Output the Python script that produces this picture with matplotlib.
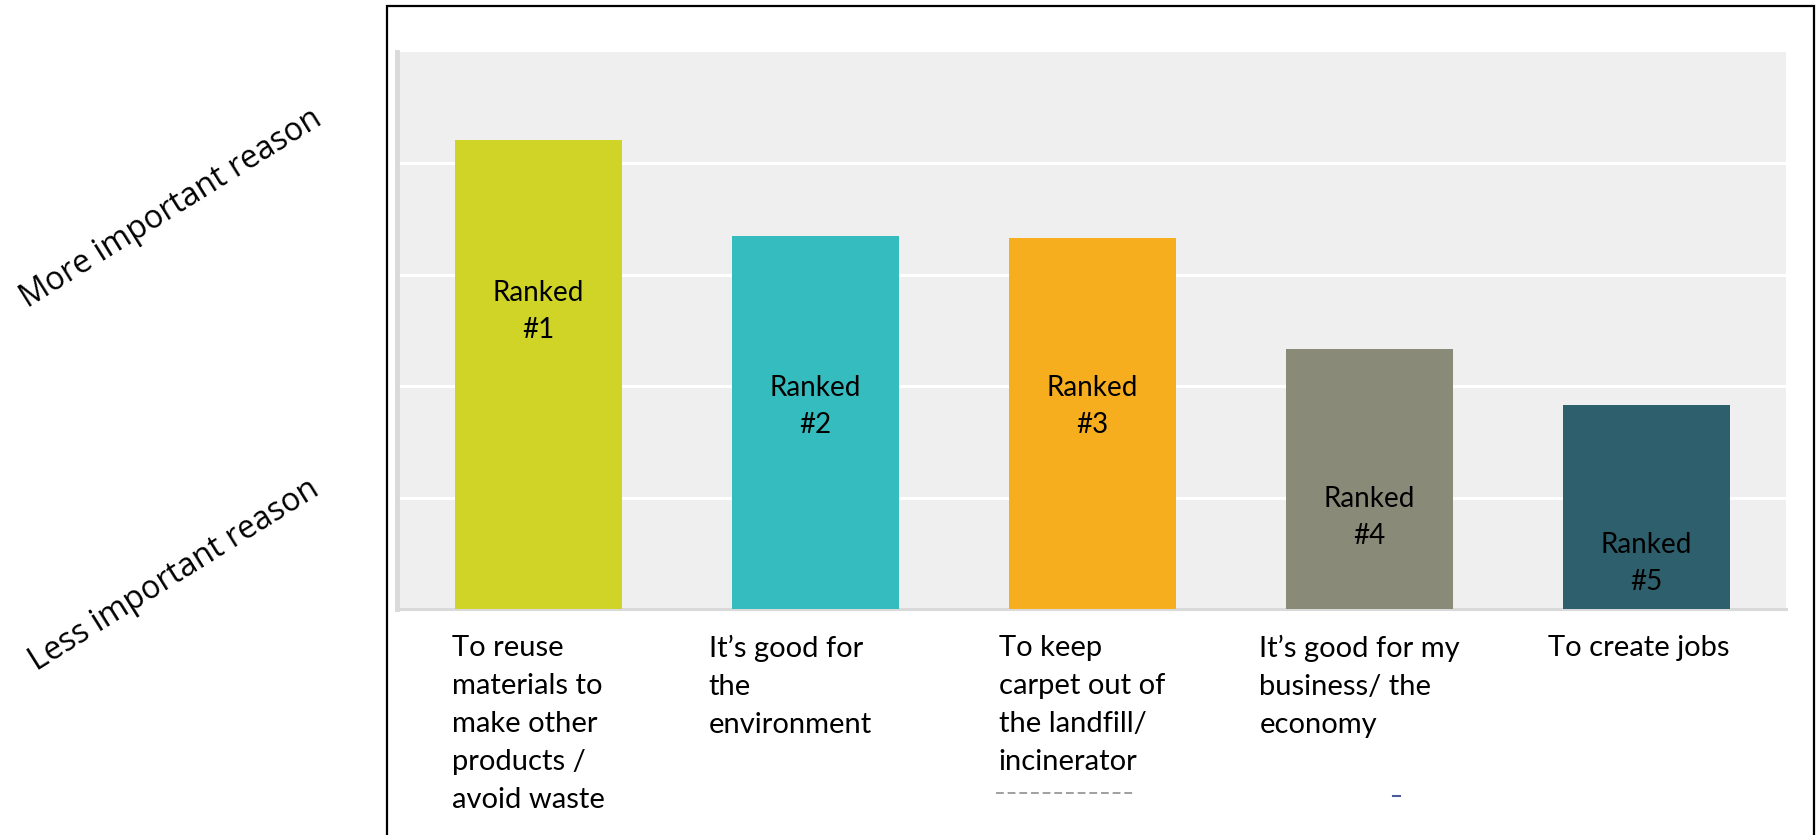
import numpy as np
import matplotlib.pyplot as plt
from matplotlib.patches import Rectangle
from matplotlib.lines import Line2D

# Data (y scale: 0..5, gridlines every 1)
categories = ['To reuse\nmaterials to\nmake other\nproducts /\navoid waste',
              'It\u2019s good for\nthe\nenvironment',
              'To keep\ncarpet out of\nthe landfill/\nincinerator',
              'It\u2019s good for my\nbusiness/ the\neconomy',
              'To create jobs']
ranks = ['#1', '#2', '#3', '#4', '#5']
scores = [4.21, 3.35, 3.33, 2.33, 1.83]

colors = ['#CFD427', '#34BCBF', '#F6AE1F', '#8A8A79', '#2E5F6C']

# where the "Ranked" text sits inside each bar (data units)
rank_label_y = [2.67, 1.82, 1.82, 0.82, 0.41]
# category label offset from bar centre (data units)
cat_label_dx = [-0.314, -0.385, -0.338, -0.397, -0.356]

text_font = ['Lato', 'DejaVu Sans']

fig = plt.figure(figsize=(18.2, 8.35), dpi=100)
ax = fig.add_axes([0.2181, 0.2707, 0.7632, 0.667])

x = np.arange(len(scores))
ax.bar(x, scores, width=0.603, color=colors, zorder=3)

ax.set_xlim(-0.511, 4.504)
ax.set_ylim(0, 5)
ax.set_facecolor('#EFEFEF')
ax.set_yticks([1, 2, 3, 4])
ax.set_xticks([])
ax.tick_params(left=False, labelleft=False)
ax.yaxis.grid(True, color='white', linewidth=2.2, zorder=0)
ax.set_axisbelow(True)

for s in ['top', 'right']:
    ax.spines[s].set_visible(False)
ax.spines['left'].set_color('#DADADA')
ax.spines['left'].set_linewidth(3.5)
ax.spines['bottom'].set_color('#D9D9D9')
ax.spines['bottom'].set_linewidth(2.2)

# Ranked labels inside the bars
for xi, r, ly in zip(x, ranks, rank_label_y):
    ax.text(xi, ly, 'Ranked\n' + r, ha='center', va='center',
            fontsize=20, family=text_font, color='black',
            linespacing=1.53, zorder=4)

# category labels under the bars
for xi, c, dx in zip(x, categories, cat_label_dx):
    ax.text(xi + dx, -0.047, c, transform=ax.get_xaxis_transform(),
            ha='left', va='top', fontsize=21, family=text_font,
            linespacing=1.57, clip_on=False)

# side labels
side_font = ['Open Sans', 'DejaVu Sans']
fig.text(0.094, 1 - 209 / 835, 'More important reason', rotation=32,
         ha='center', va='center', fontsize=23, family=side_font)
fig.text(0.0956, 1 - 575 / 835, 'Less important reason', rotation=32,
         ha='center', va='center', fontsize=23, family=side_font)

# outer frame
fig.add_artist(Rectangle((387 / 1820, -0.05), (1814 - 387) / 1820, 1.05 - 6 / 835,
                         transform=fig.transFigure, fill=False,
                         edgecolor='black', linewidth=1.6))

# faint leftover marks from the original
fig.add_artist(Line2D([996 / 1820, 1135 / 1820], [1 - 793 / 835] * 2,
                      transform=fig.transFigure, color='#A0A0A0',
                      linewidth=1.4, linestyle=(0, (4, 2))))
fig.add_artist(Line2D([1393 / 1820, 1400 / 1820], [1 - 796 / 835] * 2,
                      transform=fig.transFigure, color='#4A5A9A',
                      linewidth=1.5))

plt.savefig('out.png', dpi=100)
